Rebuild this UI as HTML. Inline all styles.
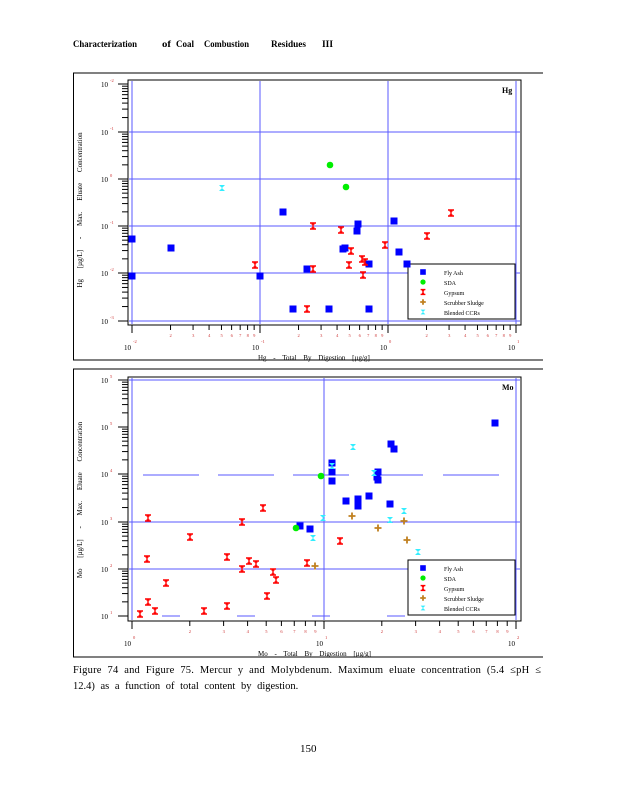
<!DOCTYPE html>
<html><head><meta charset="utf-8">
<style>
body{margin:0;background:#fff;width:618px;height:800px;overflow:hidden;font-family:"Liberation Serif",serif;}
svg{position:absolute;left:0;top:0}
</style></head><body>
<svg id="s" width="618" height="800" xmlns="http://www.w3.org/2000/svg" font-family="Liberation Serif, serif">
<g font-size="9.5" font-weight="bold">
<text x="73" y="47" textLength="64" lengthAdjust="spacingAndGlyphs">Characterization</text>
<text x="162" y="47" textLength="9" lengthAdjust="spacingAndGlyphs">of</text>
<text x="176" y="47" textLength="18" lengthAdjust="spacingAndGlyphs">Coal</text>
<text x="204" y="47" textLength="45" lengthAdjust="spacingAndGlyphs">Combustion</text>
<text x="271" y="47" textLength="35" lengthAdjust="spacingAndGlyphs">Residues</text>
<text x="322" y="47" textLength="11" lengthAdjust="spacingAndGlyphs">III</text>
</g>
<text x="73" y="673" font-size="10.5" word-spacing="3" textLength="468" lengthAdjust="spacing">Figure 74 and Figure 75. Mercur y and Molybdenum.   Maximum  eluate  concentration  (5.4  ≤pH  ≤</text>
<text x="73" y="689" font-size="10.5" word-spacing="3">12.4) as a function  of total content  by digestion.</text>
<text x="300" y="752" font-size="11">150</text>
</svg>
<script>
var s=document.getElementById('s'),NS='http://www.w3.org/2000/svg';
function el(t,a,txt){var e=document.createElementNS(NS,t);for(var k in a)e.setAttribute(k,a[k]);if(txt)e.textContent=txt;s.appendChild(e);return e;}
var G='#5a5aff';
function chart(c){
 el('line',{x1:73,y1:c.oy1,x2:543,y2:c.oy1,stroke:'#000','stroke-width':1});
 el('line',{x1:73.5,y1:c.oy1,x2:73.5,y2:c.oy2,stroke:'#000','stroke-width':1});
 el('line',{x1:73,y1:c.oy2,x2:543,y2:c.oy2,stroke:'#000','stroke-width':1});
 el('rect',{x:128,y:c.ft,width:393,height:c.fb-c.ft,fill:'none',stroke:'#000','stroke-width':1});
 c.xg.forEach(function(x){el('line',{x1:x,y1:c.ft+1,x2:x,y2:c.fb-1,stroke:G,'stroke-width':1});});
 c.yg.forEach(function(y){el('line',{x1:129,y1:y,x2:520,y2:y,stroke:G,'stroke-width':1});});
 (c.seg||[]).forEach(function(g){el('line',{x1:g[0],y1:g[2],x2:g[1],y2:g[2],stroke:G,'stroke-width':1});});
 for(var i=0;i<c.yd.length-1;i++){var y0=c.yd[i],y1=c.yd[i+1];
  for(var m=1;m<10;m++){var y=y1-(y1-y0)*Math.log10(m);el('line',{x1:m==1?118:122,y1:y,x2:128,y2:y,stroke:'#000','stroke-width':1});}}
 el('line',{x1:118,y1:c.yd[0],x2:128,y2:c.yd[0],stroke:'#000'});
 c.yd.forEach(function(y,i){el('text',{x:101,y:y+3,'font-size':7},'10');el('text',{x:110,y:y-2,'font-size':4.5,fill:'#c33'},c.ye[i]);});
 for(var i=0;i<c.xd.length-1;i++){var x0=c.xd[i],x1=c.xd[i+1];
  for(var m=1;m<10;m++){var x=x0+(x1-x0)*Math.log10(m);el('line',{x1:x,y1:c.fb,x2:x,y2:c.fb+(m==1?8:5),stroke:'#000'});
   if(m>1)el('text',{x:x-1,y:c.fb+12,'font-size':4.5,fill:'#c33'},m);}}
 el('line',{x1:c.xd[c.xd.length-1],y1:c.fb,x2:c.xd[c.xd.length-1],y2:c.fb+8,stroke:'#000'});
 c.xd.forEach(function(x,i){el('text',{x:x-8,y:c.fb+25,'font-size':7},'10');el('text',{x:x+1,y:c.fb+18,'font-size':4.5,fill:'#c33'},c.xe[i]);});
 el('text',{x:258,y:c.fb+35,'font-size':7,'word-spacing':5},c.xl);
 el('text',{x:0,y:0,'font-size':7,'word-spacing':9,transform:'translate(82,'+c.ymid+') rotate(-90)','text-anchor':'middle'},c.yl);
 el('text',{x:502,y:c.ft+13,'font-size':8,'font-weight':'bold'},c.tag);
 el('rect',{x:408,y:c.lt,width:107,height:55,fill:'#fff',stroke:'#000','stroke-width':1});
 var L=[['b','Fly     Ash'],['g','SDA'],['r','Gypsum'],['o','Scrubber          Sludge'],['c','Blended          CCRs']];
 L.forEach(function(l,i){var y=c.lt+8+i*10;mk(l[0],423,y,0.8);el('text',{x:444,y:y+3,'font-size':6},l[1]);});
 c.pts.forEach(function(p){mk(p[0],p[1],p[2],1);});
}
function mk(t,x,y,k){
 if(t=='b')el('rect',{x:x-3.5*k,y:y-3.5*k,width:7*k,height:7*k,fill:'#0000ff'});
 else if(t=='g')el('circle',{cx:x,cy:y,r:3.3*k,fill:'#00ee00'});
 else if(t=='r'){el('path',{d:'M'+(x-3*k)+' '+(y-3*k)+'h'+6*k+'M'+(x-3*k)+' '+(y+3*k)+'h'+6*k+'M'+x+' '+(y-3*k)+'v'+6*k+'M'+(x-1.5*k)+' '+(y-2*k)+'h'+3*k+'M'+(x-1.5*k)+' '+(y+2*k)+'h'+3*k,stroke:'#ff0000','stroke-width':1.4,fill:'none'});}
 else if(t=='o'){el('path',{d:'M'+(x-3.5*k)+' '+y+'h'+7*k+'M'+x+' '+(y-3.5*k)+'v'+7*k,stroke:'#c08020','stroke-width':1.8});}
 else if(t=='c'){el('path',{d:'M'+(x-3*k)+' '+(y-3*k)+'L'+(x+3*k)+' '+(y-3*k)+'L'+(x-3*k)+' '+(y+3*k)+'L'+(x+3*k)+' '+(y+3*k)+'Z',fill:'#33eeff'});}
}
chart({oy1:73,oy2:360,ft:80,fb:325,xg:[132,260,388,516],yg:[132,179,226,273,321],
 yd:[84,132,179,226,273,321],ye:['-2','-1','0','-1','-2','-3'],xd:[132,260,388,516],xe:['-2','-1','0','1'],
 xl:'Hg  -  Total   By   Digestion    [µg/g]',yl:'Hg  [µg/L]  -  Max.  Eluate  Concentration',ymid:210,tag:'Hg',lt:264,
 pts:[['b',132,239],['b',171,248],['b',132,276],['b',260,276],['b',283,212],['b',307,269],['b',293,309],['b',329,309],['b',358,224],['b',357,231],['b',345,248],['b',343,249],['b',369,264],['b',369,309],['b',394,221],['b',399,252],['b',407,264],
 ['g',330,165],['g',346,187],
 ['r',255,265],['r',313,226],['r',313,269],['r',307,309],['r',341,230],['r',351,251],['r',349,265],['r',362,259],['r',365,262],['r',363,275],['r',385,245],['r',427,236],['r',451,213],
 ['c',222,188]]});
chart({oy1:369,oy2:657,ft:377,fb:621,xg:[132,324,516],yg:[380,522,569],
 seg:[[143,199,475],[218,274,475],[293,349,475],[377,423,475],[443,499,475],[162,180,616],[237,255,616],[312,330,616],[387,405,616]],
 yd:[380,427,474,522,569,616],ye:['5','5','4','3','2','1'],xd:[132,324,516],xe:['0','1','2'],
 xl:'Mo  -  Total   By   Digestion    [µg/g]',yl:'Mo  [µg/L]  -  Max.  Eluate  Concentration',ymid:500,tag:'Mo',lt:560,
 pts:[['r',140,614],['r',148,602],['r',155,611],['r',147,559],['r',148,518],['r',166,583],['r',190,537],['r',204,611],['r',227,557],['r',227,606],['r',242,522],['r',242,569],['r',249,561],['r',256,564],['r',263,508],['r',267,596],['r',273,572],['r',276,580],['r',307,563],['r',340,541],
 ['o',315,566],['o',352,516],['o',378,528],['o',404,521],['o',407,540],
 ['b',300,526],['b',310,529],['b',332,463],['b',332,472],['b',332,481],['b',391,444],['b',394,449],['b',346,501],['b',358,499],['b',358,506],['b',369,496],['b',377,477],['b',378,472],['b',378,480],['b',390,504],['b',495,423],
 ['g',296,528],['g',321,476],
 ['c',313,538],['c',323,518],['c',353,447],['c',332,466],['c',374,473],['c',390,520],['c',404,511],['c',418,552]]});
</script>
</body></html>
